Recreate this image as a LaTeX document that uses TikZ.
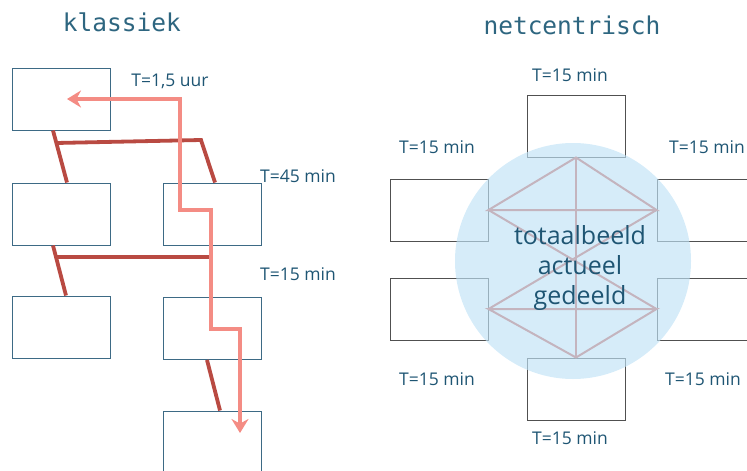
\documentclass[tikz,border=0pt]{standalone}
\usepackage{fontspec}
\setmainfont{Open Sans}
\newfontfamily\titlefont{DejaVu Sans Mono}
\usetikzlibrary{arrows.meta}

\definecolor{boxteal}{RGB}{61,106,133}
\definecolor{netgrey}{RGB}{80,80,80}
\definecolor{busred}{RGB}{185,74,66}
\definecolor{flowpink}{RGB}{244,140,132}
\definecolor{hubblue}{RGB}{192,226,246}
\definecolor{meshgrey}{RGB}{196,180,190}
\definecolor{labelteal}{RGB}{30,85,115}
\definecolor{titleteal}{RGB}{46,102,128}

\tikzset{
  oldbox/.style={draw=boxteal, line width=1pt, minimum width=98pt, minimum height=62pt, inner sep=0pt},
  netbox/.style={draw=netgrey, line width=1pt, minimum width=98pt, minimum height=62pt, inner sep=0pt},
  bus/.style={draw=busred, line width=3.8pt},
  flow/.style={draw=flowpink, line width=3.4pt, {Stealth[length=14pt,width=17pt]}-{Stealth[length=14pt,width=17pt]}},
  mesh/.style={draw=meshgrey, line width=2pt},
  tlabel/.style={text=labelteal, font=\fontsize{17.5}{20}\selectfont, inner sep=0pt},
  ttitle/.style={text=titleteal, font=\titlefont\fontsize{24.5}{28}\selectfont, inner sep=0pt}
}

\begin{document}
\begin{tikzpicture}[x=1pt,y=-1pt]
  \useasboundingbox (0,0) rectangle (747,471);

  % Titles
  \node[ttitle] (klassiek) at (122,22) {klassiek};
  \node[ttitle] (netcentrisch) at (572,25) {netcentrisch};

  % Classic hierarchy boxes
  \node[oldbox] (A) at (61,99) {};
  \node[oldbox] (B) at (61,214) {};
  \node[oldbox] (C) at (212,214) {};
  \node[oldbox] (D) at (61,327) {};
  \node[oldbox] (E) at (212,328.5) {};
  \node[oldbox] (F) at (212,442) {};

  % Hierarchy links
  \draw[bus] ([xshift=-8pt]A.south) -- ([xshift=6pt]B.north);
  \draw[bus] (56,143) -- (201,140) -- ([xshift=3pt]C.north);
  \draw[bus] ([xshift=-8pt]B.south) -- ([xshift=5pt]D.north);
  \draw[bus] (56,257) -- (211,257);
  \draw[bus] ([xshift=-5pt]E.south) -- ([xshift=8pt]F.north);

  % Information flow
  \draw[flow] ([xshift=6pt]A.center) -| (180,210) -| (211,329) -| ([xshift=28pt,yshift=9pt]F.center);

  % Classic labels
  \node[tlabel] (t1) at (170,81) {T=1,5 uur};
  \node[tlabel] (t2) at (298,176) {T=45 min};
  \node[tlabel] (t3) at (298,274) {T=15 min};

  % Netcentric boxes
  \node[netbox] (NT) at (576,126) {};
  \node[netbox] (NLU) at (439,210) {};
  \node[netbox] (NRU) at (706,210) {};
  \node[netbox] (NLL) at (439,309) {};
  \node[netbox] (NRL) at (706,309) {};
  \node[netbox] (NB) at (576,389) {};

  % Shared picture
  \node[circle, fill=hubblue, fill opacity=0.65, minimum size=236pt, inner sep=0pt] (hub) at (573,261) {};

  % Mesh
  \draw[mesh] (NT.south) -- (NLU.east) -- (NRU.west) -- cycle;
  \draw[mesh] (NT.south) -- (NB.north);
  \draw[mesh] (NLU.east) -- (NRL.west);
  \draw[mesh] (NRU.west) -- (NLL.east);
  \draw[mesh] (NB.north) -- (NLL.east) -- (NRL.west) -- cycle;

  \node[text=labelteal, font=\fontsize{25}{30}\selectfont, align=center, inner sep=0pt] (hubtext) at (580,268) {totaalbeeld\\actueel\\gedeeld};

  % Netcentric labels
  \node[tlabel] (n1) at (570,75) {T=15 min};
  \node[tlabel] (n2) at (437,147) {T=15 min};
  \node[tlabel] (n3) at (707,147) {T=15 min};
  \node[tlabel] (n4) at (437,379) {T=15 min};
  \node[tlabel] (n5) at (703,379) {T=15 min};
  \node[tlabel] (n6) at (570,438) {T=15 min};
\end{tikzpicture}
\end{document}
